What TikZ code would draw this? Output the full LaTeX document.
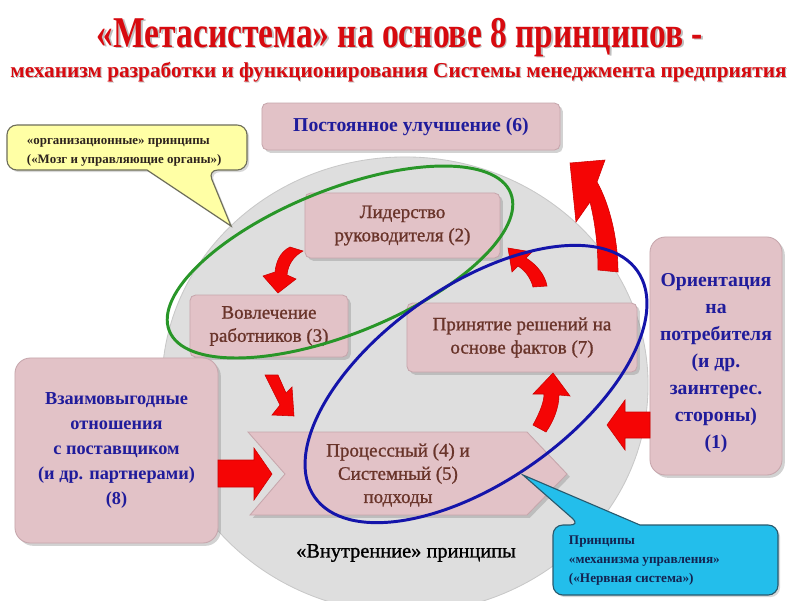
\documentclass[tikz,border=0pt]{standalone}
\usepackage{fontspec}
\setmainfont{Liberation Serif}
\newfontfamily\medserif{Liberation Serif}[FakeBold=1.1]
\usetikzlibrary{shadows}
\definecolor{titlered}{RGB}{215,10,15}
\definecolor{pinkfill}{RGB}{226,194,199}
\definecolor{pinkedge}{RGB}{198,166,172}
\definecolor{grayc}{RGB}{222,222,222}
\definecolor{graye}{RGB}{200,200,200}
\definecolor{browntext}{RGB}{105,52,42}
\definecolor{navytext}{RGB}{32,28,155}
\definecolor{arrowred}{RGB}{245,5,5}
\definecolor{arrowedge}{RGB}{205,0,0}
\definecolor{greenl}{RGB}{40,150,40}
\definecolor{bluel}{RGB}{20,20,170}
\definecolor{yfill}{RGB}{255,255,165}
\definecolor{yedge}{RGB}{110,110,90}
\definecolor{cfill}{RGB}{35,190,235}
\definecolor{cedge}{RGB}{40,90,110}
\definecolor{calltxt}{RGB}{45,35,30}
\definecolor{calltxtb}{RGB}{20,35,80}
\begin{document}
\begin{tikzpicture}[x=0.025cm,y=-0.025cm,
  pinkbox/.style={draw=pinkedge, line width=0.6pt, fill=pinkfill, rounded corners=4pt,
    drop shadow={shadow xshift=2pt, shadow yshift=-2pt, opacity=0.35}, inner sep=2pt},
  bigbox/.style={pinkbox, rounded corners=11pt},
  browntxt/.style={text=browntext, font=\medserif\fontsize{13.5}{16.5}\selectfont, align=center},
  navytxt/.style={text=navytext, font=\bfseries\fontsize{13}{17.8}\selectfont, align=center},
  redarrow/.style={fill=arrowred, draw=arrowedge, line width=0.4pt},
  calloutshape/.style={line width=0.8pt, rounded corners=7pt,
    drop shadow={shadow xshift=1.5pt, shadow yshift=-1.5pt, opacity=0.3}},
  ring/.style={line width=2.1pt}
]
\useasboundingbox (0,0) rectangle (800,600);
\clip (0,0) rectangle (800,600);
\fill[white] (0,0) rectangle (800,600);

% titles
\node[anchor=base, inner sep=0, text=black, opacity=0.25] at (401.5,48.5)
  {\resizebox{15.15cm}{0.73cm}{\bfseries «Метасистема» на основе 8 принципов -}};
\node[anchor=base, inner sep=0, text=titlered] (t1) at (400,47)
  {\resizebox{15.15cm}{0.73cm}{\bfseries «Метасистема» на основе 8 принципов -}};
\node[anchor=base, inner sep=0, text=black, opacity=0.25] at (399.5,78)
  {\resizebox{19.4cm}{0.38cm}{\bfseries механизм разработки и функционирования Системы менеджмента предприятия}};
\node[anchor=base, inner sep=0, text=titlered] (t2) at (398.5,77)
  {\resizebox{19.4cm}{0.38cm}{\bfseries механизм разработки и функционирования Системы менеджмента предприятия}};

% big gray circle
\filldraw[fill=grayc, draw=graye, line width=0.6pt] (405,385) ellipse [x radius=6.075cm, y radius=5.7cm];

% pink boxes
\node[pinkbox, minimum width=7.45cm, minimum height=1.175cm, navytxt, font=\bfseries\fontsize{14}{16}\selectfont] (b6) at (411,126.5) {Постоянное улучшение (6)};
\node[pinkbox, minimum width=4.875cm, minimum height=1.625cm, browntxt] (b2) at (402.5,225.5) {Лидерство\\руководителя (2)};
\node[pinkbox, minimum width=3.95cm, minimum height=1.55cm, browntxt] (b3) at (269,326) {Вовлечение\\работников (3)};
\node[pinkbox, minimum width=5.75cm, minimum height=1.725cm, browntxt] (b7) at (522,337.5) {Принятие решений на\\основе фактов (7)};
\node[bigbox, minimum width=5.075cm, minimum height=4.625cm, navytxt] (b8) at (116.5,450.5) {Взаимовыгодные\\отношения\\с поставщиком\\(и др. партнерами)\\(8)};
\node[bigbox, minimum width=3.3cm, minimum height=5.95cm] (b1) at (716,356) {};
\node[navytxt, font=\bfseries\fontsize{14}{19.2}\selectfont] (b1t) at (716,363) {Ориентация\\на\\потребителя\\(и др.\\заинтерес.\\стороны)\\(1)};

% chevron
\path[draw=pinkedge, line width=0.6pt, fill=pinkfill, drop shadow={shadow xshift=2pt, shadow yshift=-2pt, opacity=0.35}]
  (248,432) -- (527,432) -- (567,474) -- (527,515) -- (250,515) -- (285,474) -- cycle;
\node[browntxt] (b45) at (398,475) {Процессный (4) и\\Системный (5)\\подходы};

\node[font=\medserif\fontsize{14.5}{17}\selectfont] (inner) at (406,553) {«Внутренние» принципы};

% red arrows
\path[redarrow] (570,163) -- (605,160) -- (597,182) .. controls (610,205) and (618,240) .. (618,272)
  -- (598,270) .. controls (598,245) and (595,222) .. (590,202) -- (576,222) -- cycle;
\path[redarrow] (518,266) -- (512,272) -- (508,248) -- (532,252) -- (526,258)
  .. controls (537,265) and (545,275) .. (547,286) -- (533,287)
  .. controls (531,279) and (526,271) .. (518,266) -- cycle;
\path[redarrow] (290,247) .. controls (280,252) and (276,262) .. (275,272) -- (263,276) -- (278,293)
  -- (296,279) -- (287,275) .. controls (288,264) and (294,256) .. (303,251) -- cycle;
\path[redarrow] (265,375) -- (278,375) -- (286,393) -- (292,387) -- (294,416) -- (272,415) -- (280,405) -- cycle;
\path[redarrow] (533,425) .. controls (540,412) and (544,402) .. (544,394) -- (533,394) -- (553,373)
  -- (570,396) -- (559,395) .. controls (559,408) and (553,422) .. (546,432) -- cycle;
\path[redarrow] (218,460) -- (254,460) -- (254,448) -- (272,474) -- (254,500) -- (254,487) -- (218,487) -- cycle;
\path[redarrow] (650,412) -- (625,412) -- (625,400) -- (607,425) -- (625,450) -- (625,438) -- (650,438) -- cycle;

% rings
\draw[ring, draw=greenl, rotate around={22:(340,262)}] (340,262) ellipse [x radius=4.6cm, y radius=1.8cm];
\draw[ring, draw=bluel, rotate around={35:(476,384)}] (476,384) ellipse [x radius=4.925cm, y radius=2.45cm];

% callouts
\path[calloutshape, draw=yedge, fill=yfill] (7,125) -- (247,125) -- (247,170) -- (208,170)
  [sharp corners] -- (231,226) -- (147,170) [rounded corners=7pt] -- (7,170) -- cycle;
\node[anchor=west, align=left, text=calltxt, font=\bfseries\fontsize{9.2}{13.5}\selectfont] (ytxt) at (22,152.5)
  {«организационные» принципы\\(«Мозг и управляющие органы»)};
\path[calloutshape, draw=cedge, fill=cfill] (553,525) -- (580,525) [sharp corners] -- (523,475) -- (640,525)
  [rounded corners=7pt] -- (778,525) -- (778,595) -- (553,595) -- cycle;
\node[anchor=west, align=left, text=calltxtb, font=\bfseries\fontsize{9.4}{13.5}\selectfont] (ctxt) at (564,561)
  {Принципы\\«механизма управления»\\(«Нервная система»)};
\end{tikzpicture}
\end{document}
